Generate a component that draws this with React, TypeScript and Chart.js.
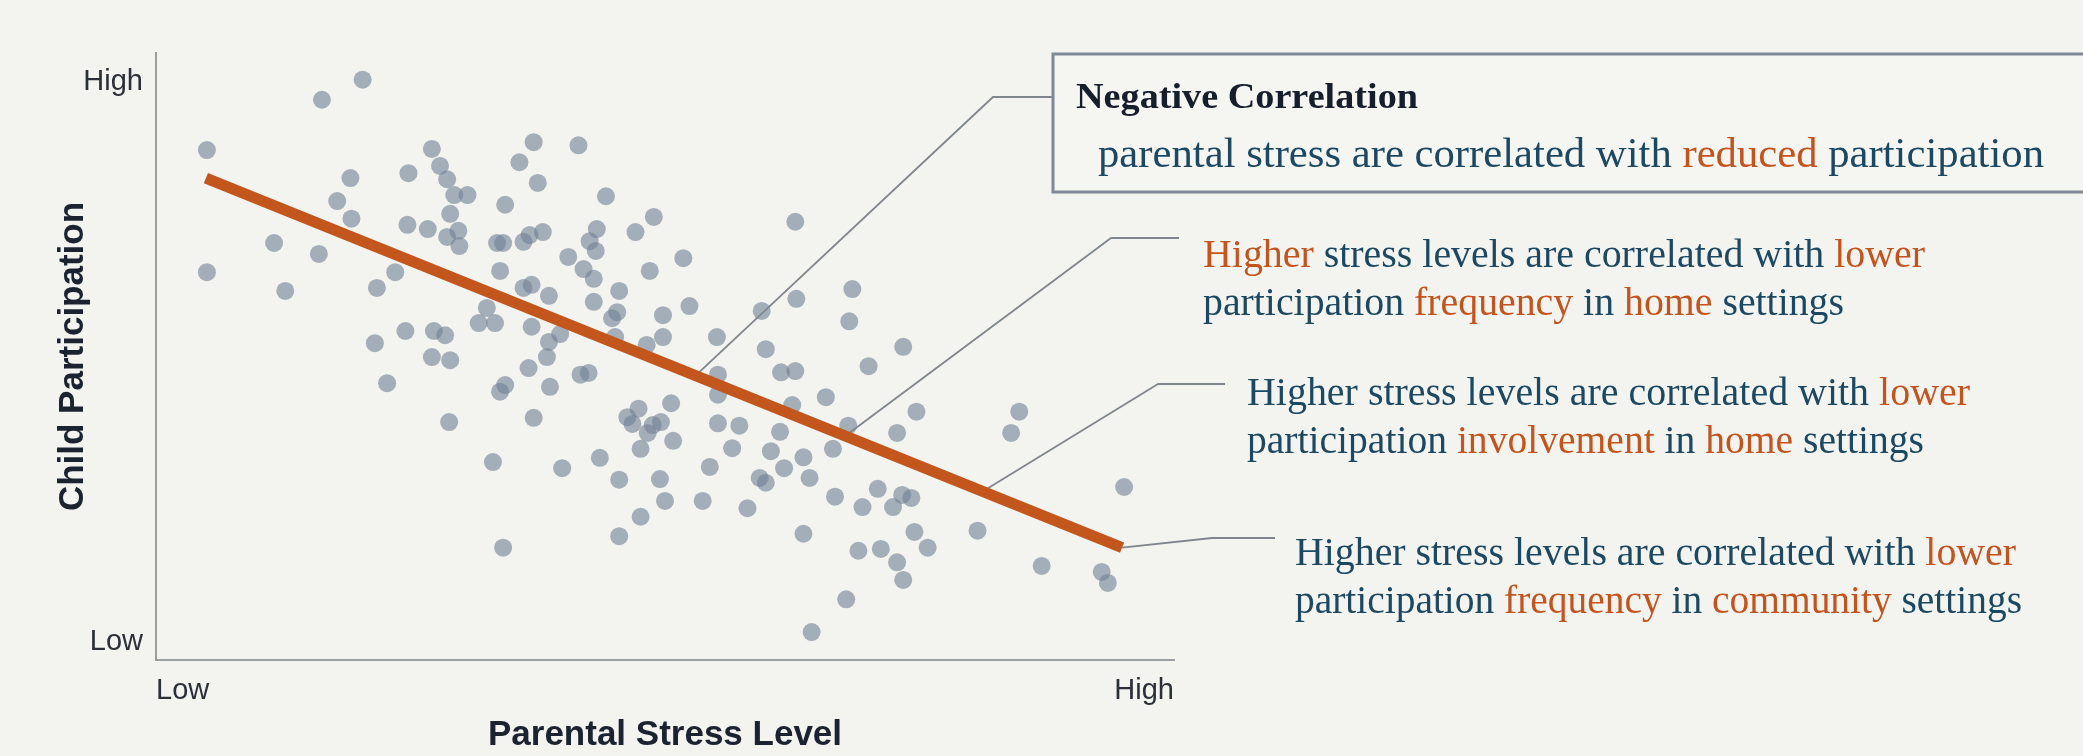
import React, { useEffect, useRef } from 'react';
import { Chart, registerables } from 'chart.js';

Chart.register(...registerables);

// ---- data (unitless 0-10 scales: Low .. High) ----
const stressLevel = [
  2.03, 1.63, 0.50, 2.71, 1.91, 2.48, 2.79, 2.86, 2.93, 3.06,
  1.78, 2.89, 3.43, 1.92, 2.47, 2.67, 2.86, 2.97, 2.98, 3.35,
  3.41, 1.16, 1.60, 0.50, 3.38, 2.35, 2.17, 1.27, 3.25, 3.17,
  3.33, 2.45, 2.73, 2.84, 2.15, 2.71, 2.89, 3.71, 4.15, 3.57,
  3.75, 4.42, 4.89, 4.71, 4.33, 4.26, 4.32, 3.80, 3.67, 3.61,
  6.28, 4.05, 5.18, 4.85, 4.20, 4.30, 3.69, 3.61, 3.86, 4.55,
  4.30, 4.53, 4.48, 5.24, 4.98, 6.29, 5.95, 3.69, 3.97, 3.86,
  4.51, 4.98, 4.82, 5.51, 5.99, 3.84, 6.84, 6.81, 7.34, 7.00,
  2.27, 3.38, 3.43, 2.88, 3.31, 3.41, 3.66, 4.17, 4.25, 3.87,
  3.71, 5.06, 4.63, 4.74, 4.68, 4.88, 4.96, 4.83, 5.08, 4.76,
  5.52, 5.52, 6.14, 6.28, 6.25, 6.58, 5.52, 5.73, 6.13, 5.66,
  6.04, 6.36, 4.36, 3.99, 5.44, 6.17, 4.55, 4.95, 5.93, 5.99,
  6.42, 5.00, 5.37, 5.81, 4.76, 4.55, 6.36, 6.44, 7.47, 7.28,
  6.80, 6.65, 8.48, 8.40, 9.51, 6.67, 7.09, 6.94, 7.33, 7.42,
  7.24, 8.07, 7.45, 7.58, 6.90, 7.12, 7.28, 7.34, 8.70, 9.29,
  9.35, 6.78,
];
const participation = [
  9.56, 9.23, 8.40, 8.42, 7.94, 8.02, 8.14, 7.92, 7.66, 7.66,
  7.56, 7.35, 7.50, 7.27, 7.17, 7.10, 6.97, 7.07, 6.82, 6.87,
  6.87, 6.87, 6.69, 6.39, 6.41, 6.39, 6.13, 6.08, 5.80, 5.55,
  5.55, 5.42, 5.42, 5.35, 5.22, 4.99, 4.94, 8.53, 8.48, 8.20,
  7.86, 7.64, 7.30, 7.05, 7.10, 6.90, 6.74, 7.05, 7.00, 6.89,
  7.22, 6.64, 6.62, 6.41, 6.44, 6.28, 6.18, 6.13, 6.00, 6.08,
  5.90, 5.73, 5.63, 5.83, 5.68, 5.95, 5.75, 5.49, 5.37, 5.24,
  5.32, 5.32, 5.19, 5.32, 5.12, 4.99, 6.11, 5.58, 5.16, 4.84,
  4.56, 4.42, 4.53, 3.92, 3.26, 1.85, 4.81, 4.70, 4.73, 4.50,
  3.99, 4.23, 4.00, 4.14, 3.89, 3.87, 3.92, 3.74, 3.61, 3.48,
  4.70, 4.37, 4.74, 4.76, 4.20, 4.33, 3.90, 3.86, 3.76, 3.49,
  3.44, 3.34, 3.33, 3.16, 3.18, 3.16, 2.97, 2.98, 3.00, 2.92,
  3.00, 2.62, 2.62, 2.50, 2.36, 2.04, 2.08, 0.46, 4.09, 3.74,
  3.86, 3.48, 4.09, 3.74, 2.85, 2.69, 2.82, 2.52, 2.72, 2.67,
  2.52, 2.13, 2.11, 1.85, 1.80, 1.83, 1.61, 1.32, 1.55, 1.45,
  1.27, 1.00,
];
const trendX = [0.49, 9.49];
const trendY = [7.94, 1.85];

const xTickValues = [0, 10];
const xTickLabels = ['Low', 'High'];
const yTickValues = [0.3, 9.52];
const yTickLabels = ['Low', 'High'];
const xTitle = 'Parental Stress Level';
const yTitle = 'Child Participation';

// callout texts: [text, tone] where tone 'n' = navy, 'o' = orange
const calloutTitle = 'Negative Correlation';
const calloutLines: [string, string][][] = [
  [['parental stress are correlated with ', 'n'], ['reduced', 'o'], [' participation', 'n']],
  [['Higher', 'o'], [' stress levels are correlated with ', 'n'], ['lower', 'o']],
  [['participation ', 'n'], ['frequency', 'o'], [' in ', 'n'], ['home', 'o'], [' settings', 'n']],
  [['Higher stress levels are correlated with ', 'n'], ['lower', 'o']],
  [['participation ', 'n'], ['involvement', 'o'], [' in ', 'n'], ['home', 'o'], [' settings', 'n']],
  [['Higher stress levels are correlated with ', 'n'], ['lower', 'o']],
  [['participation ', 'n'], ['frequency', 'o'], [' in ', 'n'], ['community', 'o'], [' settings', 'n']],
];
// where each leader touches the trend line (stress-level value)
const leaderAnchors = [5.30, 6.77, 8.12, 9.49];

// ---- styling / layout of the annotations ----
const BG = '#f3f3ef';
const NAVY = '#1c4862';
const ORANGE = '#c4541e';
const TONES: Record<string, string> = { n: NAVY, o: ORANGE };
const LINE_LAYOUT = [
  { x: 1098, y: 167, w: 946, size: 42 },
  { x: 1203, y: 267, w: 722, size: 40 },
  { x: 1203, y: 315, w: 641, size: 40 },
  { x: 1247, y: 405, w: 723, size: 40 },
  { x: 1247, y: 453, w: 677, size: 40 },
  { x: 1295, y: 565, w: 721, size: 40 },
  { x: 1295, y: 613, w: 727, size: 40 },
];
const LEADER_LAYOUT = [
  { ex: 993, ey: 97, tx: 1053 },
  { ex: 1111, ey: 238, tx: 1179 },
  { ex: 1158, ey: 384, tx: 1225 },
  { ex: 1212, ey: 538, tx: 1275 },
];

function trendAt(x: number) {
  const t = (x - trendX[0]) / (trendX[1] - trendX[0]);
  return trendY[0] + t * (trendY[1] - trendY[0]);
}

function drawFitted(ctx: CanvasRenderingContext2D, segs: [string, string][], x: number, y: number, font: string, targetW: number) {
  ctx.save();
  ctx.font = font;
  ctx.textBaseline = 'alphabetic';
  ctx.textAlign = 'left';
  const full = segs.map((s) => s[0]).join('');
  const w = ctx.measureText(full).width;
  const sx = targetW / w;
  ctx.translate(x, y);
  ctx.scale(sx, 1);
  let cx = 0;
  for (const [t, tone] of segs) {
    ctx.fillStyle = TONES[tone] || tone;
    ctx.fillText(t, cx, 0);
    cx += ctx.measureText(t).width;
  }
  ctx.restore();
}

const annotationPlugin = {
  id: 'calloutAnnotations',
  afterDatasetDraw(chart: any, args: any) {
    if (args.index !== 1) return; // after scatter points, before trend line
    const { ctx, scales } = chart;
    ctx.save();
    ctx.strokeStyle = '#80868d';
    ctx.lineWidth = 1.8;
    ctx.lineJoin = 'round';
    leaderAnchors.forEach((ax, i) => {
      const L = LEADER_LAYOUT[i];
      const px = scales.x.getPixelForValue(ax);
      const py = scales.y.getPixelForValue(trendAt(ax));
      ctx.beginPath();
      ctx.moveTo(px, py);
      ctx.lineTo(L.ex, L.ey);
      ctx.lineTo(L.tx, L.ey);
      ctx.stroke();
    });
    ctx.restore();
  },
  afterDraw(chart: any) {
    const { ctx } = chart;
    ctx.save();
    // callout box
    ctx.fillStyle = '#f5f5f2';
    ctx.fillRect(1053, 54, 1040, 138);
    ctx.strokeStyle = '#7e8b97';
    ctx.lineWidth = 3;
    ctx.strokeRect(1053, 54, 1040, 138);
    ctx.restore();
    drawFitted(ctx, [[calloutTitle, '#161d2b']], 1076, 108, 'bold 36px "Liberation Serif"', 342);
    calloutLines.forEach((segs, i) => {
      const L = LINE_LAYOUT[i];
      drawFitted(ctx, segs, L.x, L.y, `${L.size}px "Liberation Serif"`, L.w);
    });
  },
};

export default function App() {
  const ref = useRef<HTMLCanvasElement | null>(null);
  useEffect(() => {
    if (!ref.current) return;
    const points = stressLevel.map((x, i) => ({ x, y: participation[i] }));
    const trend = trendX.map((x, i) => ({ x, y: trendY[i] }));
    const chart = new Chart(ref.current, {
      type: 'scatter',
      data: {
        datasets: [
          {
            type: 'line',
            data: trend,
            borderColor: '#c2561d',
            borderWidth: 11,
            borderCapStyle: 'butt',
            pointRadius: 0,
            fill: false,
            tension: 0,
            order: 0,
          } as any,
          {
            type: 'scatter',
            data: points,
            backgroundColor: 'rgba(112,128,148,0.6)',
            borderWidth: 0,
            pointRadius: 9,
            order: 1,
          } as any,
        ],
      },
      options: {
        animation: false,
        responsive: false,
        events: [],
        layout: { padding: { top: 53, left: 0, right: 909, bottom: 0 } },
        plugins: { legend: { display: false }, tooltip: { enabled: false } },
        scales: {
          x: {
            type: 'linear',
            min: 0,
            max: 10,
            afterBuildTicks: (s: any) => { s.ticks = xTickValues.map((v) => ({ value: v })); },
            afterFit: (s: any) => { s.height = 96; },
            grid: { color: 'rgba(0,0,0,0)', drawTicks: false },
            border: { display: true, color: '#9b9fa4', width: 2 },
            ticks: {
              align: 'inner',
              padding: 14,
              color: '#2b3038',
              font: { family: '"Liberation Sans", Arial, sans-serif', size: 29 },
              callback: (v: any) => xTickLabels[xTickValues.indexOf(Number(v))] ?? '',
            },
            title: {
              display: true,
              text: xTitle,
              color: '#1b2330',
              font: { family: '"Liberation Sans", Arial, sans-serif', size: 35, weight: 'bold' },
              padding: { top: 3, bottom: 0 },
            },
          },
          y: {
            type: 'linear',
            min: 0,
            max: 10,
            afterBuildTicks: (s: any) => { s.ticks = yTickValues.map((v) => ({ value: v })); },
            afterFit: (s: any) => { s.width = 156; },
            grid: { color: 'rgba(0,0,0,0)', drawTicks: false },
            border: { display: true, color: '#9b9fa4', width: 2 },
            ticks: {
              padding: 13,
              color: '#2b3038',
              font: { family: '"Liberation Sans", Arial, sans-serif', size: 29 },
              callback: (v: any) => yTickLabels[yTickValues.indexOf(Number(v))] ?? '',
            },
            title: {
              display: true,
              text: yTitle,
              color: '#1b2330',
              font: { family: '"Liberation Sans", Arial, sans-serif', size: 35, weight: 'bold' },
              padding: { top: 52, bottom: 0 },
            },
          },
        },
      } as any,
      plugins: [annotationPlugin as any],
    });
    return () => chart.destroy();
  }, []);

  return (
    <div style={{ position: 'fixed', left: 0, top: 0, width: 2083, height: 756, background: BG, overflow: 'hidden' }}>
      <canvas ref={ref} width={2083} height={756} style={{ display: 'block', width: 2083, height: 756 }} />
    </div>
  );
}
